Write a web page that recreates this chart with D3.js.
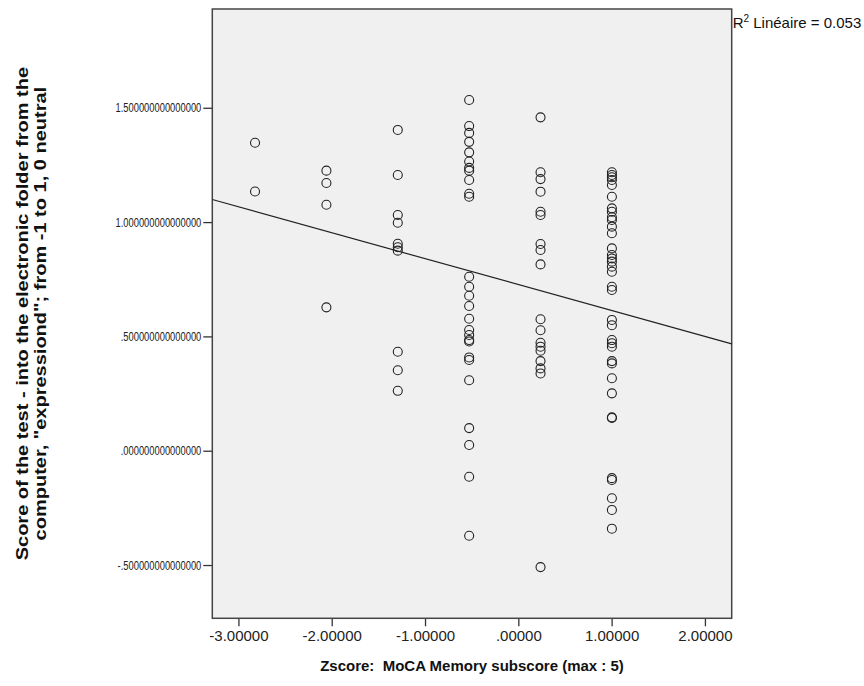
<!DOCTYPE html>
<html>
<head>
<meta charset="utf-8">
<script src="https://cdn.jsdelivr.net/npm/d3@7/dist/d3.min.js"></script>
<style>
  html, body { margin: 0; padding: 0; background: #ffffff; }
  svg { display: block; font-family: Arial, "Liberation Sans", sans-serif; }
</style>
</head>
<body>
<svg id="chart" width="864" height="686"></svg>
<script>
// MoCA memory subscore (z-score) levels: raw scores 0..5
const memoryZ = [-2.822, -2.057, -1.292, -0.527, 0.238, 1.003];

// Test scores (-1..1) observed at each memory z-score level
const scoresAtZ0 = [1.347, 1.134];
const scoresAtZ1 = [1.225, 1.171, 1.076, 0.627];
const scoresAtZ2 = [1.403, 1.206, 1.031, 0.997, 0.905, 0.89, 0.875, 0.433, 0.352, 0.262];
const scoresAtZ3 = [1.534, 1.42, 1.39, 1.351, 1.305, 1.265, 1.237, 1.225, 1.184, 1.124, 1.111,
                    0.761, 0.717, 0.678, 0.633, 0.577, 0.528, 0.506, 0.484, 0.478, 0.408, 0.397,
                    0.308, 0.099, 0.025, -0.114, -0.372];
const scoresAtZ4 = [1.458, 1.218, 1.188, 1.133, 1.045, 1.031, 0.904, 0.878, 0.815,
                    0.575, 0.527, 0.472, 0.455, 0.437, 0.392, 0.36, 0.338, -0.509];
const scoresAtZ5 = [1.218, 1.206, 1.196, 1.184, 1.162, 1.111, 1.06, 1.045, 1.021, 1.009, 0.98,
                    0.951, 0.885, 0.856, 0.841, 0.827, 0.805, 0.783, 0.717, 0.703,
                    0.572, 0.549, 0.484, 0.47, 0.455, 0.392, 0.382, 0.317, 0.251, 0.146, 0.143,
                    -0.12, -0.128, -0.208, -0.259, -0.341];
const scoreGroups = [scoresAtZ0, scoresAtZ1, scoresAtZ2, scoresAtZ3, scoresAtZ4, scoresAtZ5];

// Axis ticks
const xTicks = [-3, -2, -1, 0, 1, 2];
const yTicks = [-0.5, 0, 0.5, 1, 1.5];

const fitLabel = "Linéaire = 0.053";
const xTitle = "Zscore:  MoCA Memory subscore (max : 5)";
const yTitleLines = [
  "Score of the test - into the electronic folder from the",
  "computer, \"expressiond\"; from -1 to 1, 0 neutral"
];

// Flatten into (x, y) points
const points = [];
scoreGroups.forEach((g, i) => g.forEach(v => points.push({ x: memoryZ[i], y: v })));

// Ordinary least squares fit
const mx = d3.mean(points, d => d.x), my = d3.mean(points, d => d.y);
const sxy = d3.sum(points, d => (d.x - mx) * (d.y - my));
const sxx = d3.sum(points, d => (d.x - mx) ** 2);
const slope = sxy / sxx;
const intercept = my - slope * mx;

const svg = d3.select("#chart");
const plot = { left: 212.3, top: 9, right: 731.7, bottom: 618.3 };

const x = d3.scaleLinear().domain([-3.28, 2.287]).range([plot.left, plot.right]);
const y = d3.scaleLinear().domain([-0.733, 1.932]).range([plot.bottom, plot.top]);

// SPSS-style number formats: plain hyphen, no leading zero
const spss = s => s.replace("\u2212", "-").replace(/^(-?)0\./, "$1.");
const fmtX = v => spss(d3.format(".5f")(v));
const fmtY = v => spss(d3.format(".15f")(v));

// Plot background
svg.append("rect")
  .attr("x", plot.left).attr("y", plot.top)
  .attr("width", plot.right - plot.left).attr("height", plot.bottom - plot.top)
  .attr("fill", "#f0f0f0");

// Axes
const xAxis = svg.append("g")
  .attr("transform", `translate(0,${plot.bottom})`)
  .call(d3.axisBottom(x).tickValues(xTicks).tickFormat(fmtX).tickSizeInner(8).tickSizeOuter(0).tickPadding(4));
const yAxis = svg.append("g")
  .attr("transform", `translate(${plot.left},0)`)
  .call(d3.axisLeft(y).tickValues(yTicks).tickFormat(fmtY).tickSizeInner(9).tickSizeOuter(0).tickPadding(2));

[xAxis, yAxis].forEach(g => {
  g.select(".domain").remove();
  g.selectAll(".tick line").attr("stroke", "#333").attr("stroke-width", 1.3);
  g.selectAll(".tick text").attr("fill", "#222").attr("font-family", "Arial, 'Liberation Sans', sans-serif");
});
xAxis.selectAll(".tick text").attr("font-size", 15);

// Long y tick labels are set in a narrowed face
const yLabelSqueeze = 0.72;
yAxis.selectAll(".tick text")
  .attr("font-size", 13)
  .attr("x", -11 / yLabelSqueeze)
  .attr("transform", `scale(${yLabelSqueeze},1)`);

// Frame
svg.append("rect")
  .attr("x", plot.left).attr("y", plot.top)
  .attr("width", plot.right - plot.left).attr("height", plot.bottom - plot.top)
  .attr("fill", "none").attr("stroke", "#444").attr("stroke-width", 1.5);

// Fit line clipped to the frame
svg.append("line")
  .attr("x1", x(x.domain()[0])).attr("y1", y(intercept + slope * x.domain()[0]))
  .attr("x2", x(x.domain()[1])).attr("y2", y(intercept + slope * x.domain()[1]))
  .attr("stroke", "#222").attr("stroke-width", 1.2);

// Points
svg.append("g").selectAll("circle")
  .data(points).join("circle")
  .attr("cx", d => x(d.x)).attr("cy", d => y(d.y))
  .attr("r", 4.5)
  .attr("fill", "none").attr("stroke", "#222").attr("stroke-width", 1.1);

// Fit label
const lab = svg.append("text")
  .attr("x", plot.right + 1).attr("y", 28)
  .attr("font-size", 15).attr("fill", "#111");
lab.append("tspan").text("R");
lab.append("tspan").attr("dy", -6).attr("font-size", 10).text("2");
lab.append("tspan").attr("dy", 6).text(" " + fitLabel);

// Axis titles
svg.append("text")
  .attr("x", (plot.left + plot.right) / 2).attr("y", 671)
  .attr("text-anchor", "middle")
  .attr("font-size", 15).attr("font-weight", "bold").attr("fill", "#111")
  .style("white-space", "pre")
  .text(xTitle);

// Two-line vertical title, stretched along its reading direction
const yt = svg.append("text")
  .attr("transform", `translate(28,${(plot.top + plot.bottom) / 2}) rotate(-90) scale(1.25,1)`)
  .attr("text-anchor", "middle")
  .attr("font-size", 16).attr("font-weight", "bold").attr("fill", "#111");
yTitleLines.forEach((t, i) => yt.append("tspan").attr("x", 0).attr("dy", i ? 18 : 0).text(t));
</script>
</body>
</html>
